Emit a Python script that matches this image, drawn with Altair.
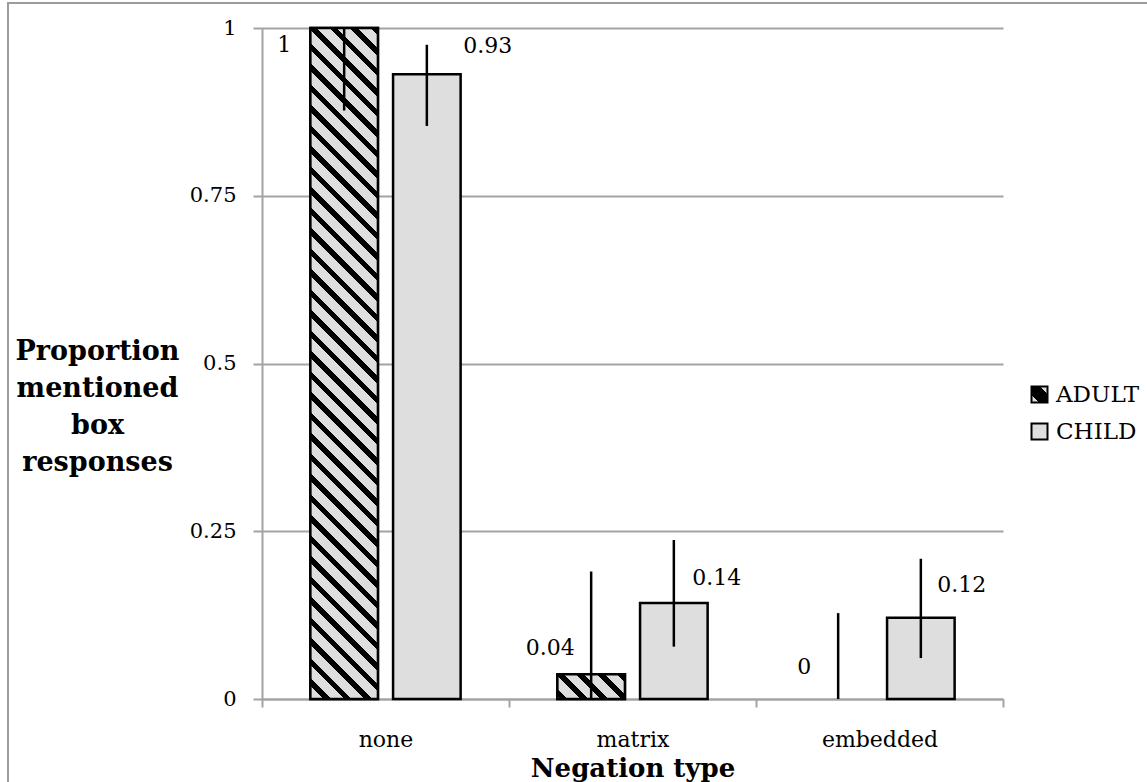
import altair as alt
import pandas as pd

# ---------------- data ----------------
categories = ["none", "matrix", "embedded"]
groups = ["ADULT", "CHILD"]
adult_values = [1.0, 0.037, 0.0]
child_values = [0.931, 0.143, 0.121]
adult_err_low = [0.877, 0.0, 0.0]
adult_err_high = [1.0, 0.19, 0.128]
child_err_low = [0.854, 0.078, 0.061]
child_err_high = [0.975, 0.237, 0.209]
y_ticks = [0, 0.25, 0.5, 0.75, 1]
x_title = "Negation type"
y_title = ["Proportion", "mentioned", "box", "responses"]

rows = []
for i, c in enumerate(categories):
    rows.append(dict(category=c, group="ADULT", value=adult_values[i],
                     lo=adult_err_low[i], hi=adult_err_high[i]))
    rows.append(dict(category=c, group="CHILD", value=child_values[i],
                     lo=child_err_low[i], hi=child_err_high[i]))
df = pd.DataFrame(rows)

# ---------------- style ----------------
W, H = 741, 671
LIGHT = "#dedede"
GRID = "#a3a3a3"
FONT = "DejaVu Serif"
BAR_W = 67.6
PAD_INNER, PAD_OUTER = 0.183, 0.585


def hatch(w, h, period=20.5, dark_frac=0.38):
    total = w + h
    stops = []

    def add(a, b, col):
        a2, b2 = max(a, 0.0), min(b, total)
        if b2 <= a2:
            return
        stops.append({"offset": round(a2 / total, 5), "color": col})
        stops.append({"offset": round(b2 / total, 5), "color": col})

    p = -period
    while p < total:
        add(p, p + dark_frac * period, "black")
        add(p + dark_frac * period, p + period, LIGHT)
        p += period
    k = total / (w * w + h * h)
    return {"gradient": "linear", "x1": 1, "y1": 0,
            "x2": 1 - k * w, "y2": k * h, "stops": stops}


LEGEND_HATCH = ("{gradient: 'linear', x1: 1, y1: 0, x2: 0, y2: 1, stops: ["
                "{offset: 0, color: '#dedede'}, {offset: 0.22, color: '#dedede'},"
                "{offset: 0.22, color: 'black'}, {offset: 0.78, color: 'black'},"
                "{offset: 0.78, color: '#dedede'}, {offset: 1, color: '#dedede'}]}")

x_axis = alt.Axis(
    labelAngle=0, labelFont=FONT, labelFontSize=22, labelColor="black",
    labelPadding=22, tickBand="extent", tickSize=8, tickColor=GRID, tickWidth=2,
    domainColor=GRID, domainWidth=2, grid=False,
    titleFont=FONT, titleFontSize=26, titleFontWeight="bold", titleColor="black",
    titleY=69, titleBaseline="middle",
)
y_axis = alt.Axis(
    values=y_ticks, format=".2~f", labelFont=FONT, labelFontSize=21,
    labelColor="black", labelPadding=17, tickSize=9, tickColor=GRID, tickWidth=2,
    domainColor=GRID, domainWidth=2, grid=True, gridColor=GRID, gridWidth=2,
    titleFont=FONT, titleFontSize=27, titleFontWeight="bold", titleColor="black",
    titleAngle=0, titleAlign="center", titleBaseline="top",
    titleX=-165, titleY=310, titleLineHeight=37,
)

x_enc = alt.X("category:N", sort=categories,
              scale=alt.Scale(domain=categories, paddingInner=0, paddingOuter=0),
              axis=x_axis, title=x_title)
xoff_enc = alt.XOffset("group:N", sort=groups,
                       scale=alt.Scale(domain=groups, paddingInner=PAD_INNER,
                                       paddingOuter=PAD_OUTER))


def y_of(field):
    return alt.Y(field, stack=None, axis=y_axis, title=y_title,
                 scale=alt.Scale(domain=[0, 1], nice=False, zero=True))


base = alt.Chart(df)

bars = base.transform_filter("datum.value > 0").mark_bar(
    stroke="black", strokeWidth=2.5
).encode(
    x=x_enc, xOffset=xoff_enc, y=y_of("value:Q"),
    fill=alt.Fill("group:N",
                  scale=alt.Scale(domain=groups,
                                  range=[{"expr": LEGEND_HATCH}, LIGHT]),
                  legend=alt.Legend(title=None, orient="none", legendX=766,
                                    legendY=355, symbolType="square",
                                    symbolSize=256, symbolStrokeColor="black",
                                    symbolStrokeWidth=2, labelFont=FONT,
                                    labelFontSize=23, labelColor="black",
                                    labelOffset=5, rowPadding=12)),
)

layers = [bars]

# hatched overlays for the ADULT bars
for i, c in enumerate(categories):
    v = adult_values[i]
    if v <= 0:
        continue
    layers.append(
        base.transform_filter(
            f"datum.group == 'ADULT' && datum.category == '{c}'"
        ).mark_bar(fill=hatch(BAR_W, v * H), stroke="black", strokeWidth=2.5)
        .encode(x=x_enc, xOffset=xoff_enc, y=y_of("value:Q"))
    )

errors = base.mark_rule(color="black", strokeWidth=2.5).encode(
    x=x_enc, xOffset=xoff_enc, y=y_of("lo:Q"), y2="hi:Q"
)
layers.append(errors)

# data labels (offsets are placement styling)
label_offsets = [
    ("none", "ADULT", -60, 17),
    ("none", "CHILD", 61, -28),
    ("matrix", "ADULT", -41, -26),
    ("matrix", "CHILD", 43, -25),
    ("embedded", "ADULT", -34, -32),
    ("embedded", "CHILD", 41, -33),
]
for c, g, dx, dy in label_offsets:
    layers.append(
        base.transform_filter(
            f"datum.group == '{g}' && datum.category == '{c}'"
        ).mark_text(dx=dx, dy=dy, font=FONT, fontSize=22, align="center",
                    baseline="middle", color="black")
        .encode(x=x_enc, xOffset=xoff_enc, y=y_of("value:Q"),
                text=alt.Text("value:Q", format=".2~f"))
    )

# outer chart-area frame (decoration)
frame_df = pd.DataFrame({"k": [0]})
frame_top = alt.Chart(frame_df).mark_rule(color="#9c9c9c", strokeWidth=2).encode(
    x=alt.value(-254), x2=alt.value(1147 - 262), y=alt.value(-25), y2=alt.value(-25)
)
frame_left = alt.Chart(frame_df).mark_rule(color="#9c9c9c", strokeWidth=2).encode(
    x=alt.value(-254), x2=alt.value(-254), y=alt.value(-26), y2=alt.value(782 - 28)
)
layers += [frame_top, frame_left]

chart = alt.layer(*layers).properties(
    width=W, height=H,
    autosize=alt.AutoSizeParams(type="none"),
    padding={"left": 262, "top": 28, "right": 1147 - 262 - W, "bottom": 782 - 28 - H},
    background="white",
).configure_view(stroke=None)

chart.save("out.html", embed_options={"renderer": "svg", "actions": False})
